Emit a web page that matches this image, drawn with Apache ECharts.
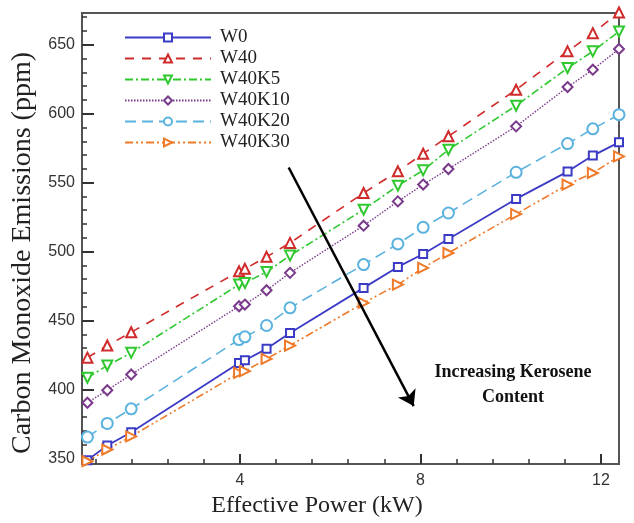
<!DOCTYPE html>
<html>
<head>
<meta charset="utf-8">
<script src="https://cdn.jsdelivr.net/npm/echarts@6/dist/echarts.min.js"></script>
<style>
html,body{margin:0;padding:0;background:#fff;}
#chart{width:634px;height:523px;}
</style>
</head>
<body>
<div id="chart"></div>
<script>
// Effective power (kW) at which each point was measured
const power = [0.62, 1.06, 1.59, 3.98, 4.11, 4.59, 5.11, 6.74, 7.5, 8.06, 8.62, 10.12, 11.26, 11.82, 12.4];
// CO emissions (ppm)
const W0     = [348.8, 359.4, 369.0, 419.3, 421.2, 429.5, 441.0, 473.7, 488.9, 498.3, 509.2, 538.2, 558.0, 569.6, 579.2];
const W40    = [423.1, 431.9, 441.5, 485.7, 487.5, 496.2, 506.3, 542.5, 558.2, 571.0, 583.6, 617.4, 645.2, 658.4, 673.4];
const W40K5  = [408.5, 417.4, 426.6, 476.1, 477.3, 485.3, 497.1, 530.4, 547.8, 558.9, 573.9, 605.8, 633.1, 645.2, 659.6];
const W40K10 = [390.4, 399.5, 410.9, 460.4, 461.6, 472.0, 484.6, 518.8, 536.4, 548.6, 559.9, 590.8, 619.3, 631.9, 646.9];
const W40K20 = [365.5, 375.4, 386.0, 436.2, 438.2, 446.4, 459.2, 490.6, 505.6, 517.6, 528.0, 557.5, 578.3, 589.0, 599.3];
const W40K30 = [348.0, 356.5, 366.0, 412.0, 413.3, 422.2, 431.9, 462.8, 476.1, 488.2, 499.0, 527.2, 548.6, 557.0, 569.0];

const seriesNames = ['W0', 'W40', 'W40K5', 'W40K10', 'W40K20', 'W40K30'];
const xMajorTicks = [4, 8, 12];
const xMinorTicks = [0.8, 1.6, 2.4, 3.2, 4.8, 5.6, 6.4, 7.2, 8.8, 9.6, 10.4, 11.2];
const yMajorTicks = [350, 400, 450, 500, 550, 600, 650];
const yMinorTicks = [360, 370, 380, 390, 410, 420, 430, 440, 460, 470, 480, 490, 510, 520, 530, 540, 560, 570, 580, 590, 610, 620, 630, 640, 660, 670];
// Arrow annotation endpoints (data coordinates)
const arrowStart = [5.08, 561];
const arrowEnd = [7.85, 388];

const values = [W0, W40, W40K5, W40K10, W40K20, W40K30];
const styles = [
  {color: '#3b3bc6', dash: 'solid', symbol: 'emptyRect', size: 8, rot: 0, width: 1.8},
  {color: '#d02a2a', dash: [9, 8], symbol: 'emptyTriangle', size: 10, rot: 0, width: 1.6},
  {color: '#2fc82f', dash: [8, 3, 2, 3], symbol: 'emptyTriangle', size: 10, rot: 180, width: 1.6},
  {color: '#7a3a8c', dash: [1.5, 1.5], symbol: 'emptyDiamond', size: 10, rot: 0, width: 1.4},
  {color: '#5ab2de', dash: [11, 6], symbol: 'emptyCircle', size: 11, rot: 0, width: 1.6},
  {color: '#ee7a2a', dash: [8, 3, 2, 3, 2, 3], symbol: 'emptyTriangle', size: 10, rot: -90, width: 1.6}
];

const series = seriesNames.map((name, i) => ({
  name: name,
  type: 'line',
  xAxisIndex: 0,
  yAxisIndex: 0,
  data: power.map((p, j) => [p, values[i][j]]),
  symbol: styles[i].symbol,
  symbolSize: styles[i].size,
  symbolRotate: styles[i].rot,
  showAllSymbol: true,
  clip: false,
  z: 3,
  lineStyle: {color: styles[i].color, width: styles[i].width, type: styles[i].dash},
  itemStyle: {color: styles[i].color, borderColor: styles[i].color, borderWidth: 1.2},
  emphasis: {disabled: true},
  animation: false
}));

series[0].markLine = {
  silent: true,
  animation: false,
  symbol: ['none', 'arrow'],
  symbolSize: 15,
  label: {show: false},
  itemStyle: {color: '#000'},
  lineStyle: {color: '#000', width: 2.5, type: 'solid'},
  data: [[{coord: arrowStart, symbol: 'none'}, {coord: arrowEnd, symbol: 'arrow', symbolSize: 15}]]
};

const axisCol = '#555';
const chart = echarts.init(document.getElementById('chart'), null, {renderer: 'canvas'});
chart.setOption({
  animation: false,
  backgroundColor: '#fff',
  grid: {left: 82, right: 15, top: 13, bottom: 59, show: true, borderColor: axisCol, borderWidth: 2, backgroundColor: 'transparent'},
  legend: {
    orient: 'vertical',
    left: 119,
    top: 23,
    itemWidth: 86,
    itemHeight: 10,
    itemGap: 2,
    data: seriesNames,
    textStyle: {fontFamily: 'Liberation Serif', fontSize: 19, color: '#222', lineHeight: 19, padding: [0, 0, 0, 4]},
    selectedMode: false
  },
  xAxis: [
    {
      type: 'value', min: 0.5, max: 12.4, position: 'bottom',
      axisLine: {show: true, lineStyle: {color: axisCol, width: 2}},
      axisTick: {show: true, inside: true, length: 10, lineStyle: {color: '#333', width: 2}, customValues: xMajorTicks},
      axisLabel: {show: true, margin: 9, fontFamily: 'Liberation Sans', fontSize: 16, color: '#333', customValues: xMajorTicks},
      splitLine: {show: false}
    },
    {
      type: 'value', min: 0.5, max: 12.4, position: 'bottom',
      axisLine: {show: false},
      axisTick: {show: true, inside: true, length: 5, lineStyle: {color: '#333', width: 1.5}, customValues: xMinorTicks},
      axisLabel: {show: false},
      splitLine: {show: false}
    }
  ],
  yAxis: [
    {
      type: 'value', min: 346, max: 673, position: 'left',
      axisLine: {show: true, lineStyle: {color: axisCol, width: 2}},
      axisTick: {show: true, inside: true, length: 12, lineStyle: {color: '#333', width: 2}, customValues: yMajorTicks},
      axisLabel: {show: true, margin: 7, fontFamily: 'Liberation Sans', fontSize: 16, color: '#333', customValues: yMajorTicks},
      splitLine: {show: false}
    },
    {
      type: 'value', min: 346, max: 673, position: 'left',
      axisLine: {show: false},
      axisTick: {show: true, inside: true, length: 5, lineStyle: {color: '#333', width: 1.5}, customValues: yMinorTicks},
      axisLabel: {show: false},
      splitLine: {show: false}
    }
  ],
  graphic: [
    {type: 'text', left: 'center', x: 0, top: 494,
     style: {text: 'Effective Power (kW)', font: '24px "Liberation Serif"', fill: '#222'}},
    {type: 'text', x: 9, y: 253, rotation: Math.PI / 2,
     style: {text: 'Carbon Monoxide Emissions (ppm)', font: '28px "Liberation Serif"', fill: '#222', align: 'center', verticalAlign: 'top'}},
    {type: 'text', x: 513, y: 372,
     style: {text: 'Increasing Kerosene', font: 'bold 18px "Liberation Serif"', fill: '#111', align: 'center', verticalAlign: 'middle'}},
    {type: 'text', x: 513, y: 397,
     style: {text: 'Content', font: 'bold 18px "Liberation Serif"', fill: '#111', align: 'center', verticalAlign: 'middle'}}
  ],
  series: series
});
</script>
</body>
</html>
